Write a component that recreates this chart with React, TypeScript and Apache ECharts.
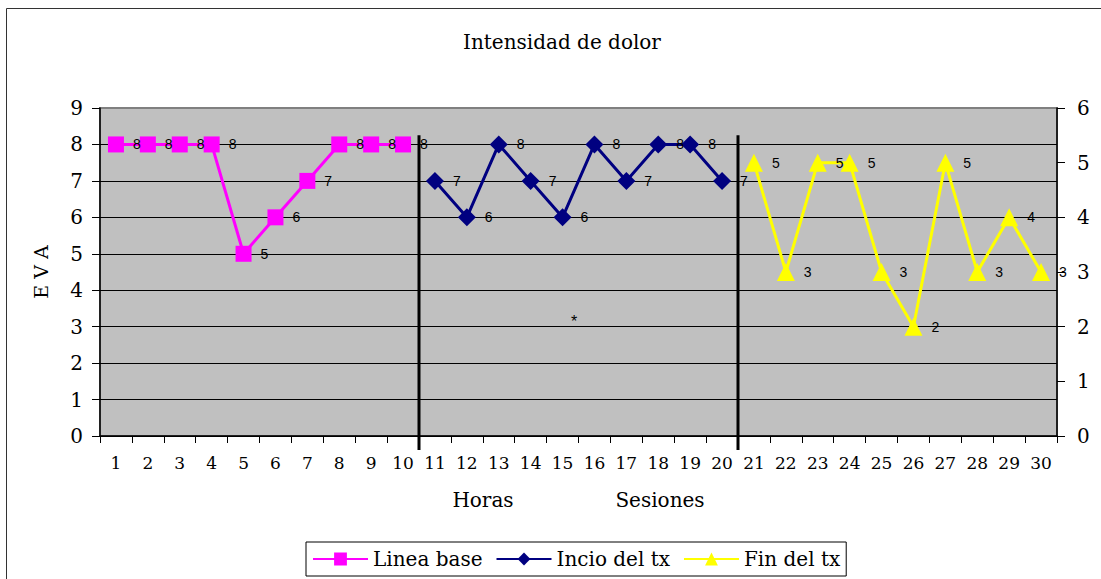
import React, { useEffect, useRef } from "react";
import * as echarts from "echarts";

const categories = ["1","2","3","4","5","6","7","8","9","10","11","12","13","14","15","16","17","18","19","20","21","22","23","24","25","26","27","28","29","30"];
const lineaBase = [8, 8, 8, 8, 5, 6, 7, 8, 8, 8];
const inicioTx = [7, 6, 8, 7, 6, 8, 7, 8, 8, 7];
const finTx = [5, 3, 5, 5, 3, 2, 5, 3, 4, 3];
const seriesNames = ["Linea base", "Incio del tx", "Fin del tx"];
const seriesColors = ["#FF00FF", "#000080", "#FFFF00"];

const SERIF = "'DejaVu Serif', serif";
const SANS = "'Liberation Sans', Arial, sans-serif";

const pad = (n: number) => new Array(n).fill("-");

export default function App() {
  const ref = useRef<HTMLDivElement>(null);
  useEffect(() => {
    if (!ref.current) return;
    const chart = echarts.init(ref.current, undefined, { renderer: "svg" });
    const labelCfg = {
      show: true,
      position: "right" as const,
      distance: 9,
      color: "#000",
      fontFamily: SANS,
      fontSize: 14,
    };
    const splitColors = ["#000", "#000", "#000", "#000", "#000", "#000", "#000", "#000", "#000", "#808080"];
    chart.setOption({
      animation: false,
      backgroundColor: "#fff",
      title: {
        text: "Intensidad de dolor",
        left: 458,
        top: 27,
        textStyle: { fontFamily: SERIF, fontSize: 20, fontWeight: "normal", color: "#000" },
      },
      legend: {
        left: 306,
        top: 542,
        itemWidth: 55,
        itemHeight: 16,
        itemGap: 13,
        padding: [7, 6, 7, 6],
        borderColor: "#000",
        borderWidth: 1,
        backgroundColor: "#fff",
        textStyle: { fontFamily: SERIF, fontSize: 20, color: "#000" },
        data: seriesNames,
      },
      grid: {
        left: 100,
        right: 44,
        top: 108,
        bottom: 143,
        show: true,
        backgroundColor: "#C0C0C0",
        borderColor: "#808080",
        borderWidth: 2,
      },
      xAxis: {
        type: "category",
        data: categories,
        boundaryGap: true,
        axisLine: { lineStyle: { color: "#000", width: 1.5 } },
        axisTick: { show: true, length: 7, inside: false, lineStyle: { color: "#000" } },
        axisLabel: { color: "#000", fontFamily: SERIF, fontSize: 17, margin: 18, interval: 0 },
        splitLine: { show: false },
      },
      yAxis: [
        {
          type: "value",
          min: 0,
          max: 9,
          interval: 1,
          name: "E V A",
          nameLocation: "middle",
          nameGap: 50,
          nameTextStyle: { fontFamily: SERIF, fontSize: 19, color: "#000" },
          axisLine: { show: true, lineStyle: { color: "#000", width: 1.5 } },
          axisTick: { show: true, length: 8, lineStyle: { color: "#000" } },
          axisLabel: { color: "#000", fontFamily: SERIF, fontSize: 20, margin: 17 },
          splitLine: { show: true, lineStyle: { color: splitColors, width: 1 } },
        },
        {
          type: "value",
          min: 0,
          max: 6,
          interval: 1,
          position: "right",
          axisLine: { show: true, lineStyle: { color: "#000", width: 1.5 } },
          axisTick: { show: true, length: 8, lineStyle: { color: "#000" } },
          axisLabel: { color: "#000", fontFamily: SERIF, fontSize: 20, margin: 20 },
          splitLine: { show: false },
        },
      ],
      series: [
        {
          name: seriesNames[0],
          type: "line",
          yAxisIndex: 0,
          data: [...lineaBase, ...pad(20)],
          symbol: "rect",
          symbolSize: 16,
          color: seriesColors[0],
          lineStyle: { color: seriesColors[0], width: 3 },
          itemStyle: { color: seriesColors[0] },
          label: labelCfg,
          z: 3,
        },
        {
          name: seriesNames[1],
          type: "line",
          yAxisIndex: 0,
          data: [...pad(10), ...inicioTx, ...pad(10)],
          symbol: "diamond",
          symbolSize: 18,
          color: seriesColors[1],
          lineStyle: { color: seriesColors[1], width: 3 },
          itemStyle: { color: seriesColors[1] },
          label: labelCfg,
          z: 3,
        },
        {
          name: seriesNames[2],
          type: "line",
          yAxisIndex: 1,
          data: [...pad(20), ...finTx],
          symbol: "triangle",
          symbolSize: 18,
          color: seriesColors[2],
          lineStyle: { color: seriesColors[2], width: 3 },
          itemStyle: { color: seriesColors[2] },
          label: labelCfg,
          z: 3,
        },
      ],
    });

    const px = (i: number) => chart.convertToPixel({ xAxisIndex: 0 }, i) as number;
    const py = (v: number) => chart.convertToPixel({ yAxisIndex: 0 }, v) as number;
    const sep1 = (px(9) + px(10)) / 2;
    const sep2 = (px(19) + px(20)) / 2;
    const yTop = py(8.25);
    const yBot = py(0) + 14;
    const starX = px(14) + 0.36 * (px(15) - px(14));
    const starY = py(3.15);

    chart.setOption({
      graphic: [
        {
          type: "rect",
          z: -10,
          silent: true,
          shape: { x: 6.5, y: 8.5, width: 1200, height: 700 },
          style: { fill: "none", stroke: "#333", lineWidth: 1 },
        },
        {
          type: "line",
          z: 10,
          shape: { x1: sep1, y1: yTop, x2: sep1, y2: yBot },
          style: { stroke: "#000", lineWidth: 3 },
        },
        {
          type: "line",
          z: 10,
          shape: { x1: sep2, y1: yTop, x2: sep2, y2: yBot },
          style: { stroke: "#000", lineWidth: 3 },
        },
        {
          type: "text",
          z: 10,
          x: starX,
          y: starY,
          style: { text: "*", fill: "#000", font: `16px ${SANS}`, textAlign: "center", textVerticalAlign: "middle" },
        },
        {
          type: "text",
          x: 483,
          y: 500,
          style: { text: "Horas", fill: "#000", font: `20px ${SERIF}`, textAlign: "center", textVerticalAlign: "middle" },
        },
        {
          type: "text",
          x: 660,
          y: 500,
          style: { text: "Sesiones", fill: "#000", font: `20px ${SERIF}`, textAlign: "center", textVerticalAlign: "middle" },
        },
      ],
    });

    return () => chart.dispose();
  }, []);
  return <div ref={ref} style={{ position: "fixed", left: 0, top: 0, width: 1101, height: 579 }} />;
}
